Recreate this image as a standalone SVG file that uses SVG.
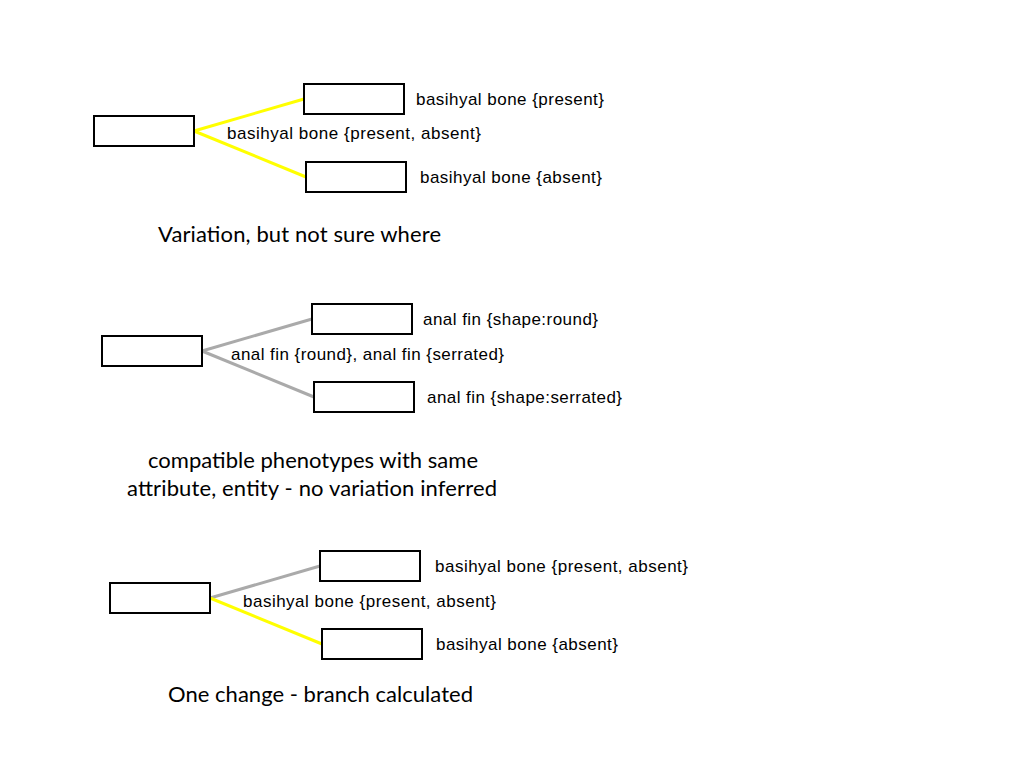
<svg xmlns="http://www.w3.org/2000/svg" width="1024" height="768" viewBox="0 0 1024 768">
<style>
.box{fill:#fff;stroke:#000;stroke-width:2}
.lbl{font-family:"Liberation Sans",Arial,sans-serif;font-size:17px;fill:#000}
.cap{font-family:Lato,"Open Sans",sans-serif;font-size:22px;fill:#000}
.y{stroke:#ffff00;stroke-width:3;fill:none}
.g{stroke:#aaaaaa;stroke-width:3;fill:none}
</style>
<rect width="1024" height="768" fill="#fff"/>
<g id="connectors">
<line class="y" x1="194" y1="131" x2="304" y2="99"/>
<line class="y" x1="194" y1="131" x2="306" y2="177"/>
<line class="g" x1="202" y1="351" x2="312" y2="319"/>
<line class="g" x1="202" y1="351" x2="314" y2="397"/>
<line class="g" x1="210" y1="598" x2="320" y2="566"/>
<line class="y" x1="210" y1="598" x2="322" y2="644"/>
</g>
<g id="p1-root"><rect class="box" x="94" y="116" width="100" height="30"/></g>
<g id="p1-top"><rect class="box" x="304" y="84" width="100" height="30"/><text class="lbl" x="416" y="105" textLength="188" lengthAdjust="spacing">basihyal bone {present}</text></g>
<g id="p1-bottom"><rect class="box" x="306" y="162" width="100" height="30"/><text class="lbl" x="420" y="183" textLength="182" lengthAdjust="spacing">basihyal bone {absent}</text></g>
<text class="lbl" x="227" y="139" textLength="254" lengthAdjust="spacing">basihyal bone {present, absent}</text>
<text class="cap" x="158" y="242" textLength="283" lengthAdjust="spacing">Variation, but not sure where</text>

<g id="p2-root"><rect class="box" x="102" y="336" width="100" height="30"/></g>
<g id="p2-top"><rect class="box" x="312" y="304" width="100" height="30"/><text class="lbl" x="423" y="325" textLength="175" lengthAdjust="spacing">anal fin {shape:round}</text></g>
<g id="p2-bottom"><rect class="box" x="314" y="382" width="100" height="30"/><text class="lbl" x="427" y="403" textLength="195" lengthAdjust="spacing">anal fin {shape:serrated}</text></g>
<text class="lbl" x="231" y="360" textLength="273" lengthAdjust="spacing">anal fin {round}, anal fin {serrated}</text>
<text class="cap" x="148" y="468" textLength="330" lengthAdjust="spacing">compatible phenotypes with same</text>
<text class="cap" x="127" y="496" textLength="370" lengthAdjust="spacing">attribute, entity - no variation inferred</text>

<g id="p3-root"><rect class="box" x="110" y="583" width="100" height="30"/></g>
<g id="p3-top"><rect class="box" x="320" y="551" width="100" height="30"/><text class="lbl" x="435" y="572" textLength="253" lengthAdjust="spacing">basihyal bone {present, absent}</text></g>
<g id="p3-bottom"><rect class="box" x="322" y="629" width="100" height="30"/><text class="lbl" x="436" y="650" textLength="182" lengthAdjust="spacing">basihyal bone {absent}</text></g>
<text class="lbl" x="243" y="607" textLength="253" lengthAdjust="spacing">basihyal bone {present, absent}</text>
<text class="cap" x="168" y="702" textLength="305" lengthAdjust="spacing">One change - branch calculated</text>
</svg>
